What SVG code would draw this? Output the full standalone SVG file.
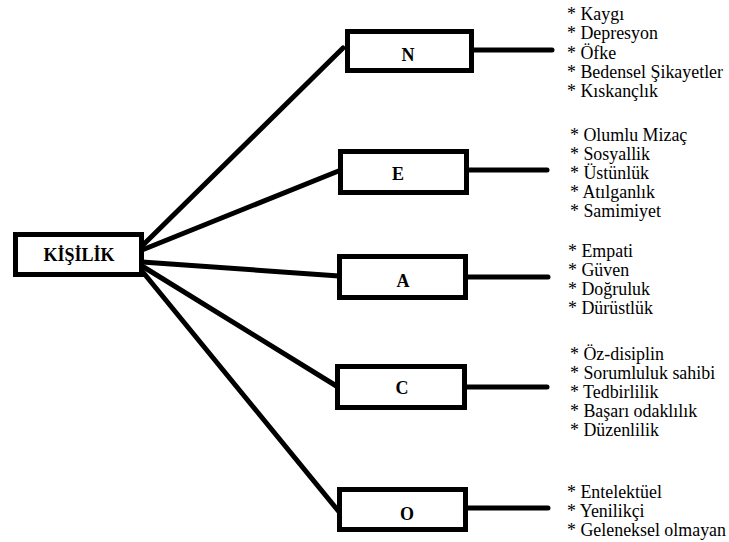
<svg xmlns="http://www.w3.org/2000/svg" width="729" height="542" viewBox="0 0 729 542">
<style>
.box{fill:#fff;stroke:#000;stroke-width:5}
.lbl{font-family:'Liberation Serif','DejaVu Serif',serif;font-weight:bold;font-size:18px;text-anchor:middle;fill:#000}
.item{font-family:'Liberation Serif','DejaVu Serif',serif;font-size:17.9px;fill:#000}
.con line{stroke:#000;stroke-width:5;stroke-linecap:round}
</style>
<rect width="729" height="542" fill="#fff"/>
<g id="connectors" class="con">
<line x1="142" y1="246" x2="343" y2="48"/>
<line x1="142" y1="250" x2="341" y2="170"/>
<line x1="142" y1="262" x2="339" y2="276"/>
<line x1="142" y1="266" x2="338" y2="387"/>
<line x1="142" y1="271" x2="340" y2="513"/>
<line x1="474" y1="50" x2="552" y2="50"/>
<line x1="469" y1="170" x2="547" y2="170"/>
<line x1="468" y1="277" x2="548" y2="277"/>
<line x1="467" y1="387" x2="547" y2="387"/>
<line x1="468" y1="508" x2="548" y2="508"/>
</g>
<g id="kisilik">
<rect class="box" x="15.5" y="234.5" width="126" height="40"/>
<text class="lbl" x="79" y="261" font-size="19.5">KİŞİLİK</text>
</g>
<g id="N">
<rect class="box" x="347.5" y="31.5" width="124" height="39"/>
<text class="lbl" x="408" y="61">N</text>
</g>
<g id="E">
<rect class="box" x="340.5" y="151.5" width="126" height="41"/>
<text class="lbl" x="398" y="180">E</text>
</g>
<g id="A">
<rect class="box" x="339.5" y="256.5" width="126" height="41"/>
<text class="lbl" x="403" y="287">A</text>
</g>
<g id="C">
<rect class="box" x="337.5" y="366.5" width="127" height="41"/>
<text class="lbl" x="402" y="394">C</text>
</g>
<g id="O">
<rect class="box" x="339.5" y="489.5" width="126" height="40"/>
<text class="lbl" x="407" y="520">O</text>
</g>
<g id="N-items" class="item">
<text x="567" y="20">* Kaygı</text>
<text x="567" y="39.3">* Depresyon</text>
<text x="567" y="58.6">* Öfke</text>
<text x="567" y="77.9">* Bedensel Şikayetler</text>
<text x="567" y="97.2">* Kıskançlık</text>
</g>
<g id="E-items" class="item">
<text x="570" y="140.5">* Olumlu Mizaç</text>
<text x="570" y="159.5">* Sosyallik</text>
<text x="570" y="178.5">* Üstünlük</text>
<text x="570" y="197.5">* Atılganlık</text>
<text x="570" y="216.5">* Samimiyet</text>
</g>
<g id="A-items" class="item">
<text x="568" y="256.5">* Empati</text>
<text x="568" y="275.5">* Güven</text>
<text x="568" y="294.5">* Doğruluk</text>
<text x="568" y="313.5">* Dürüstlük</text>
</g>
<g id="C-items" class="item">
<text x="570" y="359.5">* Öz-disiplin</text>
<text x="570" y="378.6">* Sorumluluk sahibi</text>
<text x="570" y="397.7">* Tedbirlilik</text>
<text x="570" y="416.8">* Başarı odaklılık</text>
<text x="570" y="435.9">* Düzenlilik</text>
</g>
<g id="O-items" class="item">
<text x="567" y="498">* Entelektüel</text>
<text x="567" y="516.8">* Yenilikçi</text>
<text x="567" y="535.6">* Geleneksel olmayan</text>
</g>
</svg>
